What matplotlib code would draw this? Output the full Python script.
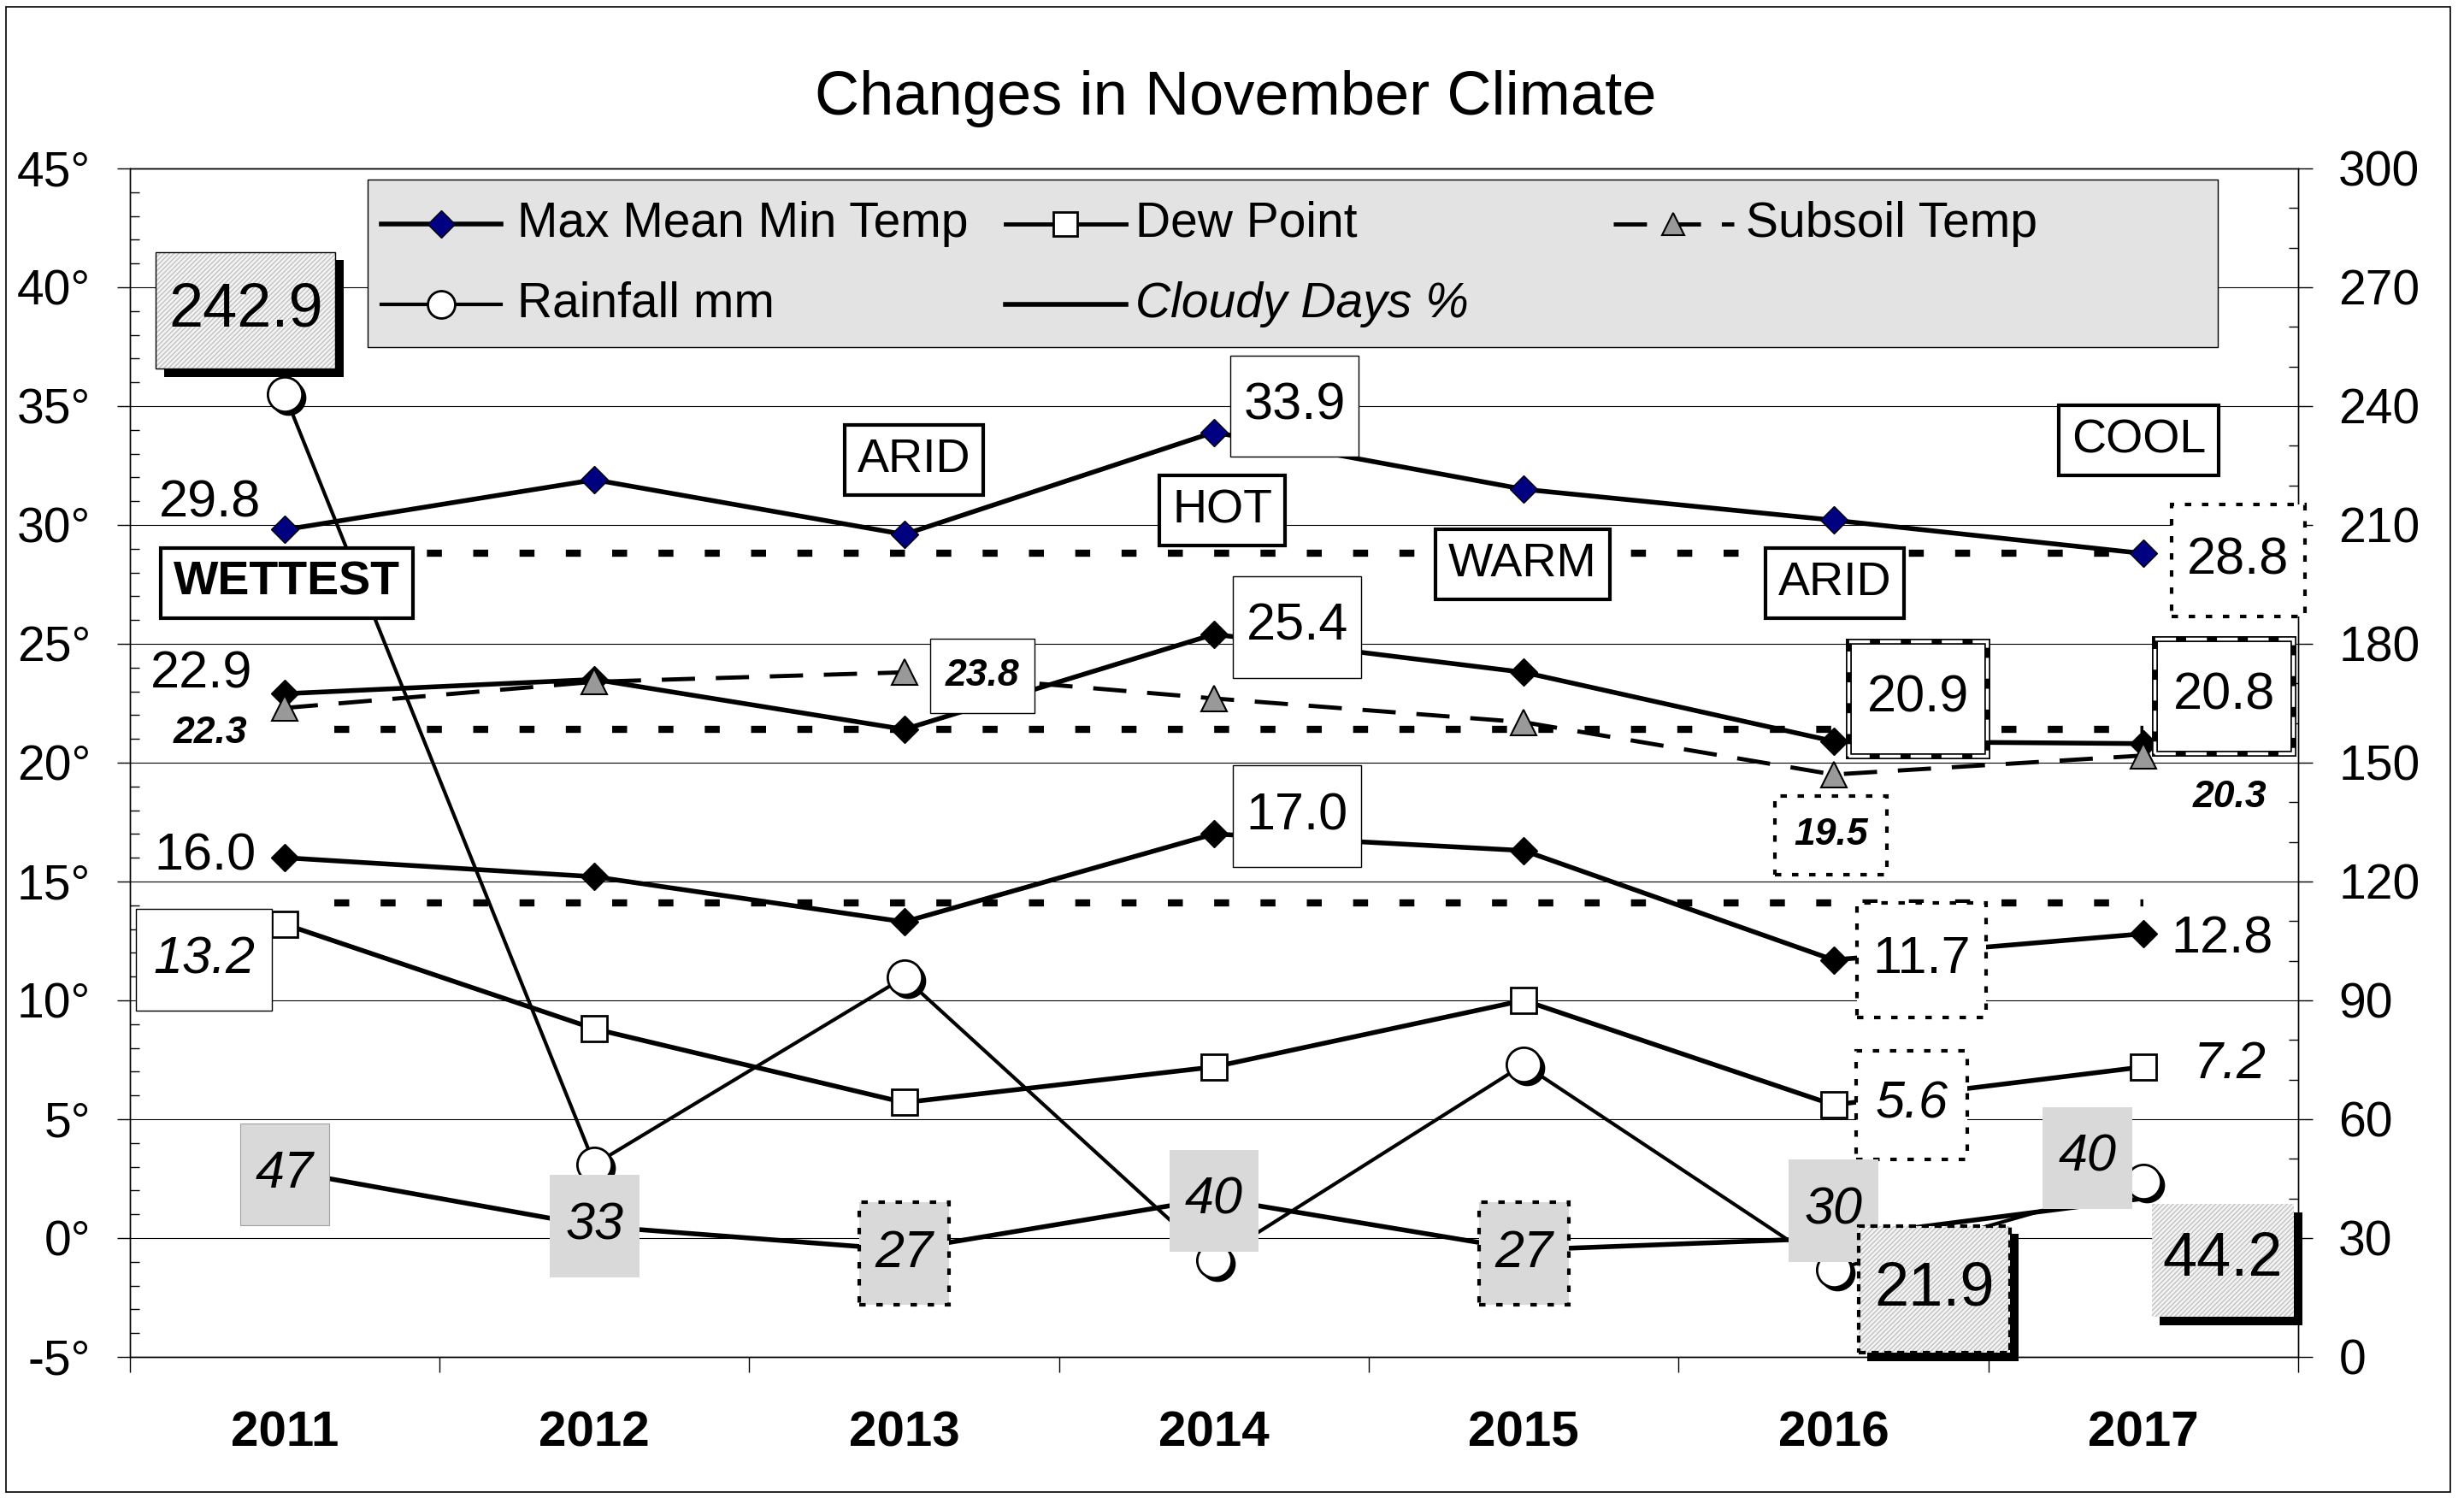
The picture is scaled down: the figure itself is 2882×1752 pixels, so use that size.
import numpy as np
import matplotlib
matplotlib.use("Agg")
import matplotlib.pyplot as plt
import matplotlib.patheffects as pe
from matplotlib.patches import Rectangle
from matplotlib.ticker import MultipleLocator
from matplotlib.transforms import offset_copy

plt.rcParams['font.family'] = ['Liberation Sans', 'DejaVu Sans']
plt.rcParams['hatch.linewidth'] = 1.0

years = ["2011", "2012", "2013", "2014", "2015", "2016", "2017"]
max_temp = [29.8, 31.9, 29.6, 33.9, 31.5, 30.2, 28.8]
mean_temp = [22.9, 23.5, 21.4, 25.4, 23.8, 20.9, 20.8]
min_temp = [16.0, 15.2, 13.3, 17.0, 16.3, 11.7, 12.8]
dew_point = [13.2, 8.8, 5.7, 7.2, 10.0, 5.6, 7.2]
subsoil = [22.3, 23.4, 23.8, 22.7, 21.7, 19.5, 20.3]
rainfall = [242.9, 48.6, 95.8, 24.4, 73.8, 21.9, 44.2]
cloudy = [47, 33, 27, 40, 27, 30, 40]
averages = [28.8, 21.4, 14.1]
words = ["WETTEST", "", "ARID", "HOT", "WARM", "ARID", "COOL"]

x = np.arange(len(years))

fig = plt.figure(figsize=(28.82, 17.52), dpi=100)
ax = fig.add_axes([0.0527, 0.0942, 0.880, 0.7934])
ax2 = ax.twinx()

ax.set_xlim(-0.5, len(years) - 0.5)
ax.set_ylim(-5, 45)
ax2.set_ylim(0, 300)

ax.set_yticks(np.arange(-5, 46, 5))
ax.set_yticklabels([f"{v}°" for v in range(-5, 46, 5)])
ax.yaxis.set_minor_locator(MultipleLocator(1))
ax2.set_yticks(np.arange(0, 301, 30))
ax2.yaxis.set_minor_locator(MultipleLocator(10))
ax.set_xticks(np.arange(-0.5, len(years), 1))
ax.set_xticklabels([])
ax.set_xticks(x, minor=True)
ax.set_xticklabels(years, minor=True, fontsize=42, fontweight='bold')
ax.tick_params(axis='x', which='major', direction='out', length=13, width=1)
ax.tick_params(axis='x', which='minor', length=0, pad=45)
ax.tick_params(axis='y', which='major', direction='out', length=11, width=1, pad=22, labelsize=41)
ax.tick_params(axis='y', which='minor', direction='in', length=8, width=1)
ax2.tick_params(axis='y', which='major', direction='out', length=12, width=1, pad=22, labelsize=41)
ax2.tick_params(axis='y', which='minor', direction='in', length=8, width=1)
ax.grid(True, axis='y', which='major', color='black', lw=0.8)
ax.set_axisbelow(True)
for a in (ax, ax2):
    for sp in a.spines.values():
        sp.set_linewidth(1)

# temperature series (left axis)
ax.plot(x, max_temp, color='black', lw=4, marker='D', ms=16, mfc='#000080', mec='black', mew=1, zorder=4)
ax.plot(x, mean_temp, color='black', lw=4, marker='D', ms=16, mfc='black', mec='black', mew=1, zorder=4)
ax.plot(x, min_temp, color='black', lw=4, marker='D', ms=16, mfc='black', mec='black', mew=1, zorder=4)
ax.plot(x, dew_point, color='black', lw=4, marker='s', ms=22, mfc='white', mec='black', mew=2, zorder=4)
ax.plot(x, subsoil, color='black', lw=3.5, ls=(0, (8, 5)), marker='^', ms=21, mfc='#999999', mec='black', mew=1.5, zorder=4)
for avg in averages:
    ax.plot([x[0] + 0.16, x[-1]], [avg, avg], color='black', lw=6, ls=(0, (2.1, 4.4)), zorder=3)

# right axis series
ax2.plot(x, cloudy, color='black', lw=4, zorder=3)
ax2.plot(x, rainfall, color='black', lw=3, zorder=3)
shadow = offset_copy(ax2.transData, fig=fig, x=4, y=-4, units='dots')
ax2.plot(x, rainfall, ls='none', marker='o', ms=29, mfc='black', mec='black', transform=shadow, zorder=4)
ax2.plot(x, rainfall, ls='none', marker='o', ms=29, mfc='white', mec='black', mew=2, zorder=4)

dots = (0, (1.8, 3))
drop = pe.SimplePatchShadow(offset=(7, -7), shadow_rgbFace='black', alpha=1.0)
hatch_fill = pe.PathPatchEffect(facecolor='#f4f4f4', edgecolor='#c2c2c2', linewidth=0, hatch='//////')


def box_style(kind, pad, aspect):
    box = dict(boxstyle=f'square,pad={pad}', mutation_aspect=aspect)
    if kind is None:
        return None
    if kind == 'plain':
        return dict(box, fc='white', ec='black', lw=1)
    if kind == 'dotted':
        return dict(box, fc='white', ec='black', lw=3, ls=dots)
    if kind == 'stripe':
        return dict(box, fc='white', ec='black', lw=5,
                    path_effects=[pe.Normal(),
                                  pe.PathPatchEffect(facecolor='none', edgecolor='white',
                                                     linewidth=2.5, linestyle=(0, (7, 3.4)))])
    if kind == 'gray':
        return dict(box, fc='#d9d9d9', ec='none')
    if kind == 'grayline':
        return dict(box, fc='#d9d9d9', ec='#a0a0a0', lw=0.8)
    if kind == 'graydot':
        return dict(box, fc='#d9d9d9', ec='black', lw=3, ls=dots)
    if kind == 'word':
        return dict(box, fc='white', ec='black', lw=3)
    # hatched boxes with a black drop shadow
    effects = [drop, hatch_fill, pe.Normal()]
    if kind == 'hatch':
        return dict(box, fc='none', ec='black', lw=1, path_effects=effects)
    if kind == 'hatchdash':
        return dict(box, fc='none', ec='black', lw=3, ls=(0, (2, 1.6)), path_effects=effects)
    return dict(box, fc='none', ec='none', lw=0, path_effects=effects)


def note(src, i, v, text, dx, dy, size=44, kind=None, weight='normal', style='normal', pad=0.25, aspect=2.0):
    ax2.annotate(text, (x[i], v), xycoords=src.transData, xytext=(dx, dy),
                 textcoords='offset points', ha='center', va='center', fontsize=size,
                 fontweight=weight, fontstyle=style, bbox=box_style(kind, pad, aspect),
                 zorder=6, annotation_clip=False)


# max temp labels
note(ax, 0, max_temp[0], f"{max_temp[0]:.1f}", -63, 22)
note(ax, 3, max_temp[3], f"{max_temp[3]:.1f}", 68, 22, kind='plain')
note(ax, 6, max_temp[6], f"{max_temp[6]:.1f}", 80, -6, kind='dotted', pad=0.3, aspect=2.0)
# mean temp labels
note(ax, 0, mean_temp[0], f"{mean_temp[0]:.1f}", -70, 16)
note(ax, 3, mean_temp[3], f"{mean_temp[3]:.1f}", 70, 6, kind='plain')
note(ax, 5, mean_temp[5], f"{mean_temp[5]:.1f}", 71, 36, kind='stripe', pad=0.35, aspect=1.8)
note(ax, 6, mean_temp[6], f"{mean_temp[6]:.1f}", 68, 40, kind='stripe', pad=0.35, aspect=1.8)
# min temp labels
note(ax, 0, min_temp[0], f"{min_temp[0]:.1f}", -67, 1)
note(ax, 3, min_temp[3], f"{min_temp[3]:.1f}", 70, 15, kind='plain')
note(ax, 5, min_temp[5], f"{min_temp[5]:.1f}", 74, 0, kind='dotted', pad=0.3, aspect=2.1)
note(ax, 6, min_temp[6], f"{min_temp[6]:.1f}", 66, -5)
# dew point labels
note(ax, 0, dew_point[0], f"{dew_point[0]:.1f}", -68, -30, kind='plain', style='italic', pad=0.33, aspect=1.55)
note(ax, 5, dew_point[5], f"{dew_point[5]:.1f}", 66, 0, kind='dotted', style='italic', pad=0.37, aspect=1.55)
note(ax, 6, dew_point[6], f"{dew_point[6]:.1f}", 73, 2, style='italic')
# subsoil labels
note(ax, 0, subsoil[0], f"{subsoil[0]:.1f}", -63, -21, size=32, weight='bold', style='italic')
note(ax, 2, subsoil[2], f"{subsoil[2]:.1f}", 66, -3, size=32, kind='plain', weight='bold', style='italic', pad=0.4, aspect=1.3)
note(ax, 5, subsoil[5], f"{subsoil[5]:.1f}", -2, -51, size=32, kind='dotted', weight='bold', style='italic', pad=0.5, aspect=1.15)
note(ax, 6, subsoil[6], f"{subsoil[6]:.1f}", 73, -35, size=32, weight='bold', style='italic')
# cloudy day labels
cloud_place = [(0, -3, 'grayline'), (0, 0, 'gray'), (0, -3, 'graydot'), (0, -2, 'gray'),
               (0, -3, 'graydot'), (0, 23, 'gray'), (-47, 34, 'gray')]
for i, (dx, dy, kind) in enumerate(cloud_place):
    note(ax2, i, cloudy[i], f"{cloudy[i]}", dx, dy, kind=kind, style='italic', pad=0.3, aspect=1.7)
# rainfall labels
note(ax2, 0, rainfall[0], f"{rainfall[0]:.1f}", -33, 71, size=52, kind='hatch', pad=0.2, aspect=2.4)
note(ax2, 5, rainfall[5], f"{rainfall[5]:.1f}", 85, -16, size=52, kind='hatchdash', pad=0.25, aspect=2.25)
note(ax2, 6, rainfall[6], f"{rainfall[6]:.1f}", 67, -66, size=52, kind='hatchnone', pad=0.18, aspect=2.5)
# word labels
word_place = [(2, -45), None, (8, 63), (7, -66), (-1, -63), (1, -53), (-4, 95)]
for i, w in enumerate(words):
    if w:
        dx, dy = word_place[i]
        note(ax, i, max_temp[i], w, dx, dy, size=40, kind='word',
             weight='bold' if w == "WETTEST" else 'normal', pad=0.27, aspect=1.0)

# legend
ax2.add_patch(Rectangle((0.1096, 0.8496), 0.8534, 0.141, transform=ax2.transAxes,
                        fc='#e3e3e3', ec='black', lw=1, zorder=8))


def legend_item(x0, x1, y, label, line_kw, marker_kw, tx, style='normal'):
    ax2.plot([x0, x1], [y, y], transform=ax2.transAxes, zorder=9, color='black', **line_kw)
    if marker_kw:
        ax2.plot([(x0 + x1) / 2], [y], transform=ax2.transAxes, ls='none', zorder=10, **marker_kw)
    ax2.text(tx, y, label, transform=ax2.transAxes, fontsize=41, va='center', ha='left',
             fontstyle=style, zorder=10)


row1, row2 = 0.9532, 0.8856
legend_item(0.1159, 0.1711, row1, "Max Mean Min Temp", dict(lw=4),
            dict(marker='D', ms=16, mfc='#000080', mec='black'), 0.1786)
legend_item(0.4038, 0.4594, row1, "Dew Point", dict(lw=3.5),
            dict(marker='s', ms=20, mfc='white', mec='black', mew=2), 0.4637)
legend_item(0.6841, 0.7397, row1, "Subsoil Temp", dict(lw=3.5, ls=(0, (8, 5))),
            dict(marker='^', ms=19, mfc='#999999', mec='black', mew=1.5), 0.7453)
legend_item(0.1159, 0.1711, row2, "Rainfall mm", dict(lw=3),
            dict(marker='o', ms=23, mfc='white', mec='black', mew=2), 0.1786)
legend_item(0.4038, 0.4594, row2, "Cloudy Days %", dict(lw=4), None, 0.4637, style='italic')

fig.text(0.5014, 0.9235, "Changes in November Climate", ha='center', va='baseline', fontsize=52)
fig.add_artist(Rectangle((0.0024, 0.004), 0.9921, 0.9914, transform=fig.transFigure,
                         fill=False, ec='black', lw=1.2))

fig.savefig("out.png", dpi=100)
